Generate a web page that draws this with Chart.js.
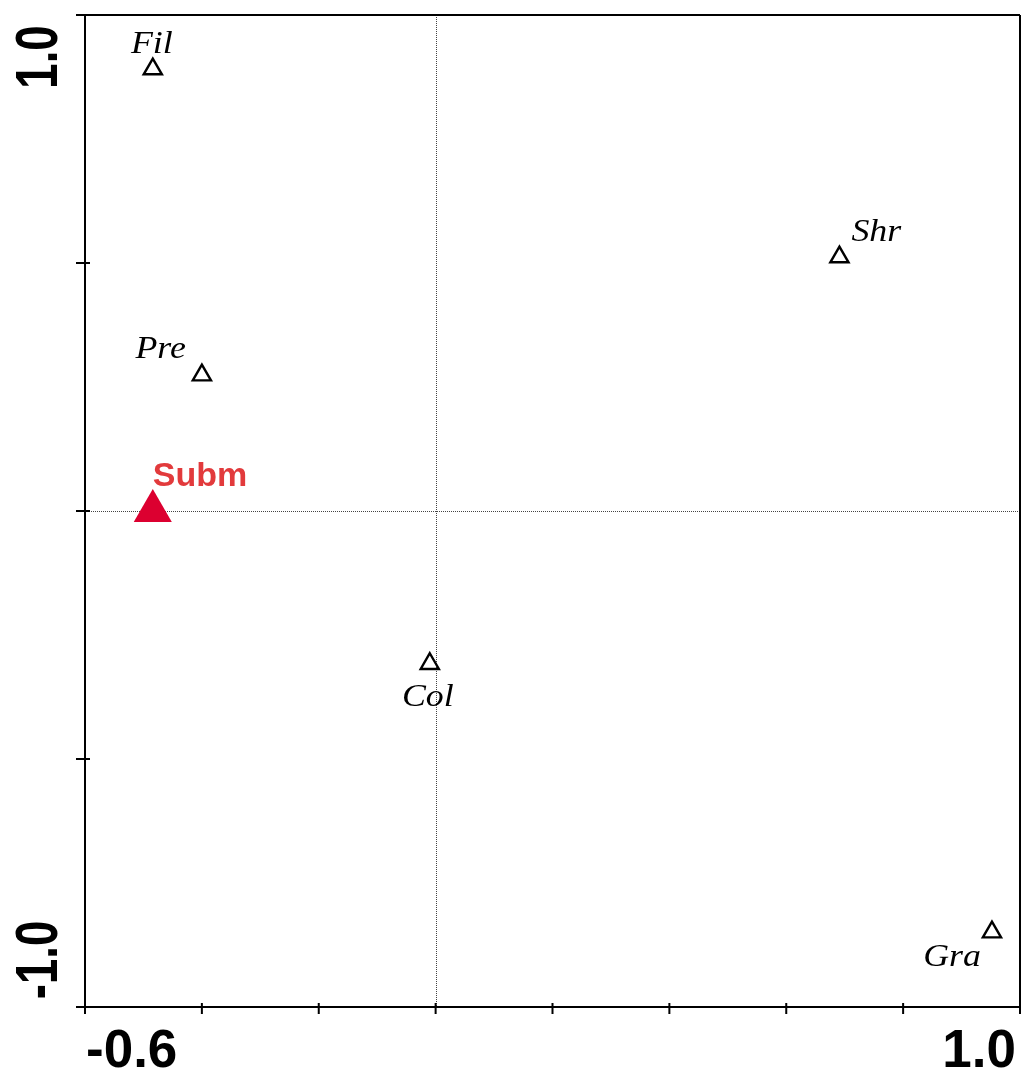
<!DOCTYPE html>
<html>
<head>
<meta charset="utf-8">
<script src="https://cdn.jsdelivr.net/npm/chart.js@4/dist/chart.umd.min.js"></script>
<style>
  html, body { margin: 0; padding: 0; background: #fff; }
  #wrap { width: 1021px; height: 1073px; }
</style>
</head>
<body>
<div id="wrap"><canvas id="c" width="1021" height="1073"></canvas></div>
<script>
// ---- data ----
const speciesNames = ['Fil', 'Pre', 'Shr', 'Col', 'Gra'];
const speciesX = [-0.484, -0.40, 0.691, -0.01, 0.952];
const speciesY = [0.891, 0.274, 0.512, -0.308, -0.849];
const envNames = ['Subm'];
const envX = [-0.484];
const envY = [0.0];
const xTickValues = [-0.6, -0.4, -0.2, 0.0, 0.2, 0.4, 0.6, 0.8, 1.0];
const yTickValues = [-1.0, -0.5, 0.0, 0.5, 1.0];
const xTickLabels = ['-0.6', '1.0'];
const yTickLabels = ['1.0', '-1.0'];

// ---- label placement styles (offsets from point, in px) ----
const speciesLabelStyle = [
  { dx: -1, dy: -16, align: 'center' },
  { dx: -16, dy: -17, align: 'right' },
  { dx: 12, dy: -16, align: 'left' },
  { dx: -2, dy: 42, align: 'center' },
  { dx: -11, dy: 34, align: 'right' }
];
const envLabelStyle = [{ dx: 0, dy: -25, align: 'left' }];

const speciesData = speciesX.map((x, i) => ({ x: x, y: speciesY[i] }));
const envData = envX.map((x, i) => ({ x: x, y: envY[i] }));

const framePlugin = {
  id: 'frame',
  beforeDatasetsDraw(chart) {
    const ctx = chart.ctx;
    const xs = chart.scales.x, ys = chart.scales.y;
    const L = xs.getPixelForValue(-0.6), R = xs.getPixelForValue(1.0);
    const T = ys.getPixelForValue(1.0), B = ys.getPixelForValue(-1.0);
    ctx.save();
    // zero lines (dotted)
    ctx.strokeStyle = '#444';
    ctx.lineWidth = 1;
    ctx.setLineDash([1, 1]);
    const x0 = Math.round(xs.getPixelForValue(0)) + 0.5;
    const y0 = Math.round(ys.getPixelForValue(0)) + 0.5;
    ctx.beginPath();
    ctx.moveTo(x0, T); ctx.lineTo(x0, B);
    ctx.moveTo(L, y0); ctx.lineTo(R, y0);
    ctx.stroke();
    ctx.setLineDash([]);
    // frame
    ctx.strokeStyle = '#000';
    ctx.lineWidth = 2;
    ctx.beginPath();
    ctx.moveTo(L - 8, T); ctx.lineTo(R, T);
    ctx.moveTo(L, T); ctx.lineTo(L, B);
    ctx.moveTo(L - 9, B); ctx.lineTo(R, B);
    ctx.moveTo(R, T); ctx.lineTo(R, B);
    ctx.stroke();
    // ticks
    ctx.beginPath();
    xTickValues.forEach(v => {
      const p = xs.getPixelForValue(v);
      ctx.moveTo(p, B - 4); ctx.lineTo(p, B + 7);
    });
    yTickValues.forEach(v => {
      const p = ys.getPixelForValue(v);
      ctx.moveTo(L - 9, p); ctx.lineTo(L + 5, p);
    });
    ctx.stroke();
    // x tick labels
    ctx.fillStyle = '#000';
    ctx.font = 'bold 53px "Liberation Sans", Arial, sans-serif';
    ctx.textBaseline = 'alphabetic';
    ctx.textAlign = 'left';
    ctx.fillText(xTickLabels[0], L + 1, B + 60);
    ctx.textAlign = 'right';
    ctx.fillText(xTickLabels[1], R - 4, B + 60);
    // y tick labels (rotated)
    ctx.font = 'bold 60px "Liberation Sans", Arial, sans-serif';
    ctx.textAlign = 'center';
    [[yTickLabels[0], T + 42], [yTickLabels[1], B - 47]].forEach(([t, py]) => {
      ctx.save();
      ctx.translate(57, py);
      ctx.rotate(-Math.PI / 2);
      ctx.scale(0.76, 1);
      ctx.fillText(t, 0, 0);
      ctx.restore();
    });
    ctx.restore();
  },
  afterDatasetsDraw(chart) {
    const ctx = chart.ctx;
    ctx.save();
    ctx.textBaseline = 'alphabetic';
    const m0 = chart.getDatasetMeta(0);
    ctx.fillStyle = '#000';
    ctx.font = 'italic 32px "Liberation Serif", "Times New Roman", serif';
    m0.data.forEach((pt, i) => {
      const s = speciesLabelStyle[i];
      ctx.save();
      ctx.translate(pt.x + s.dx, pt.y + s.dy);
      ctx.scale(1.12, 1);
      ctx.textAlign = s.align;
      ctx.fillText(speciesNames[i], 0, 0);
      ctx.restore();
    });
    const m1 = chart.getDatasetMeta(1);
    ctx.fillStyle = '#e23a3c';
    ctx.font = 'bold 34px "Liberation Sans", Arial, sans-serif';
    m1.data.forEach((pt, i) => {
      const s = envLabelStyle[i];
      ctx.textAlign = s.align;
      ctx.fillText(envNames[i], pt.x + s.dx, pt.y + s.dy);
    });
    ctx.restore();
  }
};

new Chart(document.getElementById('c'), {
  type: 'scatter',
  data: {
    datasets: [
      {
        label: 'species',
        data: speciesData,
        pointStyle: 'triangle',
        pointRadius: 10.5,
        pointHoverRadius: 10.5,
        pointBorderWidth: 2.4,
        borderColor: '#000',
        backgroundColor: 'rgba(255,255,255,0)'
      },
      {
        label: 'env',
        data: envData,
        pointStyle: 'triangle',
        pointRadius: 22,
        pointHoverRadius: 22,
        pointBorderWidth: 0,
        borderColor: '#dc0030',
        backgroundColor: '#dc0030'
      }
    ]
  },
  options: {
    responsive: false,
    animation: false,
    events: [],
    layout: { autoPadding: false, padding: { left: 85, right: 1, top: 15, bottom: 66 } },
    plugins: { legend: { display: false }, tooltip: { enabled: false } },
    scales: {
      x: { type: 'linear', min: -0.6, max: 1.0, display: false },
      y: { type: 'linear', min: -1.0, max: 1.0, display: false }
    }
  },
  plugins: [framePlugin]
});
</script>
</body>
</html>
